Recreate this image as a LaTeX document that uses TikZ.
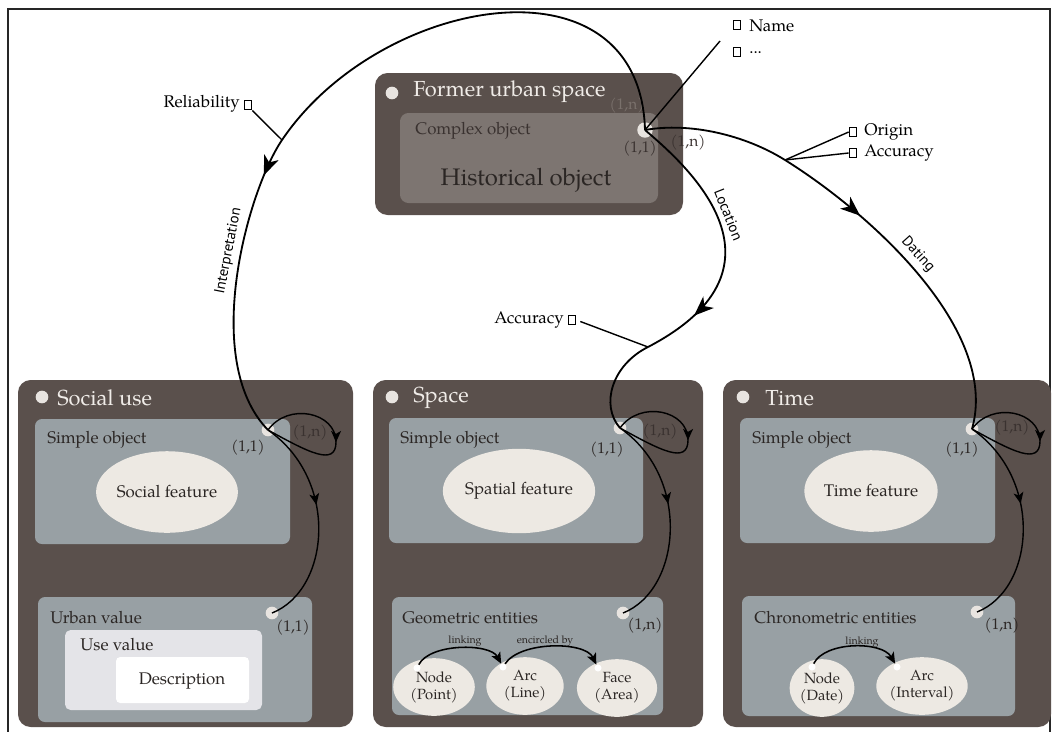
\documentclass[tikz,border=0pt]{standalone}
\usepackage{fontspec}
\setmainfont{TeX Gyre Pagella}
\setsansfont{PT Sans}
\usetikzlibrary{arrows.meta}
\usetikzlibrary{decorations.markings}
\usetikzlibrary{shapes.geometric}

\definecolor{panelgray}{HTML}{5A504C}
\definecolor{topinner}{HTML}{7D7571}
\definecolor{boxgray}{HTML}{98A0A4}
\definecolor{dotwhite}{HTML}{E8E4E0}
\definecolor{featfill}{HTML}{EDE9E3}
\definecolor{usefill}{HTML}{E4E4E8}
\definecolor{titlewhite}{HTML}{F0ECE8}
\definecolor{inkgray}{HTML}{2B2624}
\definecolor{darkink}{HTML}{3A3230}
\definecolor{faintink}{HTML}{7A716C}

\begin{document}
\begin{tikzpicture}[x=0.025cm, y=-0.025cm,
    paneltitle/.style={anchor=west, text=titlewhite, font=\fontsize{15.5}{18}\selectfont, inner sep=0pt},
    boxtitle/.style={anchor=west, text=inkgray, font=\fontsize{12}{14}\selectfont, inner sep=0pt},
    spot/.style={circle, fill=dotwhite, inner sep=0pt, minimum size=9pt},
    tinyspot/.style={circle, fill=white, inner sep=0pt, minimum size=5pt},
    card/.style={text=inkgray, font=\fontsize{11}{13}\selectfont, inner sep=0pt},
    feature/.style={ellipse, fill=featfill, text=inkgray, font=\fontsize{12}{14}\selectfont, inner sep=0pt, minimum width=92pt, minimum height=58pt},
    entity/.style={ellipse, fill=featfill, text=inkgray, font=\fontsize{10.5}{12}\selectfont, align=center, inner sep=0pt, minimum height=41pt},
    attr/.style={draw, line width=0.7pt, inner sep=0pt, minimum width=5.5pt, minimum height=7pt},
    outlabel/.style={anchor=west, font=\fontsize{12}{14}\selectfont, inner sep=0pt},
    role/.style={font=\sffamily\fontsize{10.5}{12}\selectfont, sloped, above},
    link/.style={line width=1.3pt},
    flow/.style={postaction={decorate}, decoration={markings, mark=at position #1 with {\arrow{Stealth[length=14pt, width=11pt, inset=4pt]}}}},
    smallflow/.style={postaction={decorate}, decoration={markings, mark=at position #1 with {\arrow{Stealth[length=8pt, width=7pt, inset=2pt]}}}},
    relation/.style={line width=1.1pt, -{Stealth[length=8pt, width=7pt, inset=2pt]}},
    tinylabel/.style={text=inkgray, font=\fontsize{7.5}{9}\selectfont, inner sep=0pt}]

\useasboundingbox (0,0) rectangle (1056,731);
\clip (0,0) rectangle (1056,731);

% Frame
\draw[line width=1.8pt, black!85] (8,740) -- (8,9) -- (1050,9) -- (1050,740);

% Former urban space
\fill[panelgray, rounded corners=9pt] (375,73) rectangle (683,215);
\fill[topinner, rounded corners=6pt] (400,113) rectangle (658,203);
\node[spot] (httl) at (392,93) {};
\node[paneltitle] (htitle) at (413,92) {Former urban space};
\node[boxtitle, text=darkink] (hsub) at (415,131) {Complex object};
\node[text=inkgray, font=\fontsize{17}{20}\selectfont] (hobj) at (526,180) {Historical object};
\node[spot, minimum size=11pt] (hdot) at (645,130) {};
\node[card, text=faintink] at (627,106) {(1,n)};
\node[card, text=darkink] at (640,149) {(1,1)};
\node[card, text=darkink] at (688,143) {(1,n)};

% Panel Social use
\fill[panelgray, rounded corners=9pt] (18,380) rectangle (353,727);
\node[spot] (sttl) at (42,397) {};
\node[paneltitle] (stitle) at (57,398) {Social use};
\fill[boxgray, rounded corners=5pt] (35,419) rectangle (290,544);
\node[boxtitle] (ssub) at (47,440) {Simple object};
\node[feature] (sfeat) at (167,492) {Social feature};
\node[spot] (sdot) at (268,430) {};
\node[card] at (248,448) {(1,1)};
\node[card, text=darkink] at (310,433) {(1,n)};
\fill[boxgray, rounded corners=5pt] (38,597) rectangle (312,722);
\node[boxtitle] (uvsub) at (50,618) {Urban value};
\node[spot] (uvdot) at (272,613) {};
\node[card] at (293,628) {(1,1)};
\fill[usefill, rounded corners=4pt] (65,630) rectangle (262,710);
\node[boxtitle] (usub) at (80,645) {Use value};
\fill[white, rounded corners=3pt] (116,657) rectangle (249,703);
\node[text=inkgray, font=\fontsize{12}{14}\selectfont] (desc) at (182,681) {Description};

% Panel Space
\fill[panelgray, rounded corners=9pt] (373,380) rectangle (703,727);
\node[spot] (pttl) at (392,397) {};
\node[paneltitle] (ptitle) at (413,398) {Space};
\fill[boxgray, rounded corners=5pt] (389,418) rectangle (643,543);
\node[boxtitle] (psub) at (400,440) {Simple object};
\node[feature, minimum height=60pt] (pfeat) at (519,491) {Spatial feature};
\node[spot] (spdot) at (620,428) {};
\node[card] at (607,450) {(1,1)};
\node[card, text=darkink] at (660,432) {(1,n)};
\fill[boxgray, rounded corners=5pt] (392,597) rectangle (663,715);
\node[boxtitle] (gesub) at (402,618) {Geometric entities};
\node[spot] (gedot) at (623,613) {};
\node[card] at (645,626) {(1,n)};
\node[entity, minimum width=58pt] (npoint) at (434,687) {Node\\(Point)};
\node[entity, minimum width=55pt] (aline) at (525,686) {Arc\\(Line)};
\node[entity, minimum width=57pt] (farea) at (617,688) {Face\\(Area)};
\node[tinyspot] (npspot) at (417,668) {};
\node[tinyspot] (alspot) at (503,667) {};
\node[tinyspot] (faspot) at (598,668) {};
\draw[relation] (npspot) .. controls (430,643) and (490,643) .. (alspot);
\draw[relation] (alspot) .. controls (520,641) and (585,641) .. (faspot);
\node[tinylabel] (lk1) at (465,641) {linking};
\node[tinylabel] (lk2) at (545,641) {encircled by};

% Panel Time
\fill[panelgray, rounded corners=9pt] (723,380) rectangle (1051,727);
\node[spot] (tttl) at (743,397) {};
\node[paneltitle] (ttitle) at (765,398) {Time};
\fill[boxgray, rounded corners=5pt] (740,418) rectangle (995,543);
\node[boxtitle] (tsub) at (752,440) {Simple object};
\node[feature] (tfeat) at (871,491) {Time feature};
\node[spot] (tdot) at (972,429) {};
\node[card] at (962,450) {(1,1)};
\node[card, text=darkink] at (1012,428) {(1,n)};
\fill[boxgray, rounded corners=5pt] (742,596) rectangle (1015,716);
\node[boxtitle] (cesub) at (754,618) {Chronometric entities};
\node[spot] (cedot) at (977,612) {};
\node[card] at (1002,626) {(1,n)};
\node[entity, minimum width=46pt] (ndate) at (822,688) {Node\\(Date)};
\node[entity, minimum width=57pt] (ainterval) at (922,686) {Arc\\(Interval)};
\node[tinyspot] (ndspot) at (812,667) {};
\node[tinyspot] (aispot) at (897,667) {};
\draw[relation] (ndspot) .. controls (825,641) and (882,641) .. (aispot);
\node[tinylabel] (lk3) at (862,642) {linking};

% Self loops and links inside the panels
\draw[line width=1pt, smallflow=0.52] (sdot.center) .. controls +(20,-28) and +(0,-30) .. ++(68,12) .. controls +(0,25) and +(40,22) .. (sdot.center);
\draw[line width=1pt, smallflow=0.42] (sdot.center) .. controls +(72,50) and +(58,-23) .. (uvdot.center);
\draw[line width=1pt, smallflow=0.52] (spdot.center) .. controls +(20,-28) and +(0,-30) .. ++(68,12) .. controls +(0,25) and +(40,22) .. (spdot.center);
\draw[line width=1pt, smallflow=0.42] (spdot.center) .. controls +(72,50) and +(58,-23) .. (gedot.center);
\draw[line width=1pt, smallflow=0.52] (tdot.center) .. controls +(20,-28) and +(0,-30) .. ++(68,12) .. controls +(0,25) and +(40,22) .. (tdot.center);
\draw[line width=1pt, smallflow=0.42] (tdot.center) .. controls +(72,50) and +(58,-23) .. (cedot.center);

% Interpretation
\coordinate (relpt) at (282,140);
\draw[link] (hdot.center) .. controls (640,-50) and (380,-5) .. (relpt);
\draw[link, flow=0.13] (relpt) .. controls (248,190) and (200,360) .. (sdot.center) node[role, pos=0.43] {Interpretation};
\node[attr] (relbox) at (248,105) {};
\node[outlabel, anchor=east] (reltext) at (240,104) {Reliability};
\draw[line width=1pt] (relbox.south east) -- (relpt);

% Name
\node[attr] (namebox) at (737,25) {};
\node[outlabel] (nametext) at (749,26) {Name};
\node[attr] (morebox) at (737,52) {};
\node[outlabel] (moretext) at (749,53) {...};
\coordinate (nameend) at (720,41);
\draw[line width=1pt] (hdot.center) -- (nameend);

% Location
\coordinate (locpt) at (648,347);
\draw[link, flow=0.8] (hdot.center) .. controls (680,160) and (805,265) .. (locpt) node[role, pos=0.5] {Location};
\draw[link] (locpt) .. controls (612,365) and (600,405) .. (spdot.center);
\node[attr] (locbox) at (572,320) {};
\node[outlabel, anchor=east] (loctext) at (564,320) {Accuracy};
\draw[line width=1pt, shorten <=3pt] (locbox.east) -- (locpt);

% Dating
\coordinate (datpt) at (785,160);
\draw[link] (hdot.center) .. controls (690,122) and (745,135) .. (datpt);
\draw[link, flow=0.27] (datpt) .. controls (870,213) and (1000,330) .. (tdot.center) node[role, pos=0.45] {Dating};
\node[attr] (oribox) at (853,132) {};
\node[outlabel] (oritext) at (864,132) {Origin};
\node[attr] (accbox) at (853,153) {};
\node[outlabel] (acctext) at (864,153) {Accuracy};
\draw[line width=1pt] (oribox.west) -- (datpt);
\draw[line width=1pt] (accbox.west) -- (datpt);
\end{tikzpicture}
\end{document}
